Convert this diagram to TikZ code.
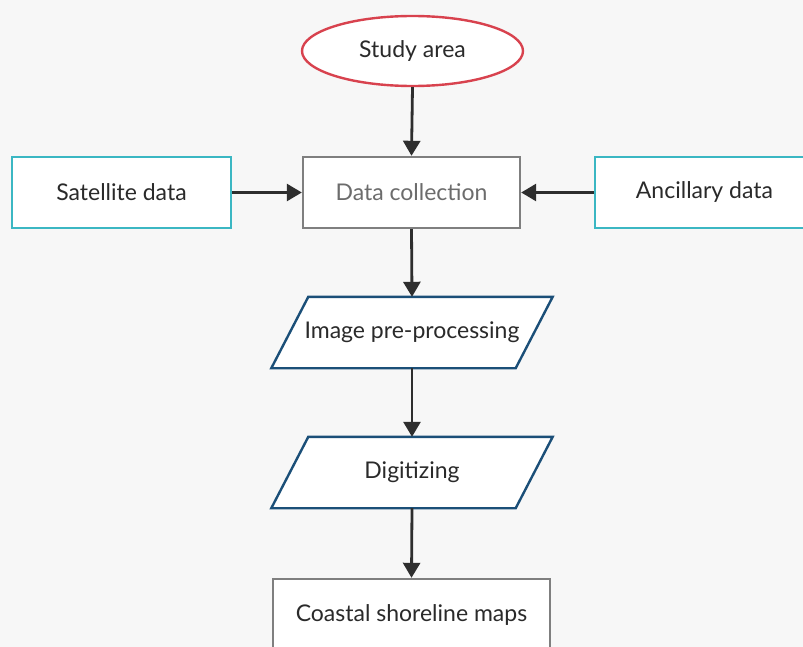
\documentclass[tikz,border=0pt]{standalone}
\usepackage{fontspec}
\setmainfont{Lato}
\usetikzlibrary{shapes.geometric,arrows.meta}
\definecolor{bg}{HTML}{F7F7F7}
\definecolor{ered}{HTML}{D8424E}
\definecolor{teal}{HTML}{3BB7C3}
\definecolor{gbox}{HTML}{7F7F7F}
\definecolor{pblue}{HTML}{1B4F78}
\definecolor{txt}{HTML}{2A2A2A}
\definecolor{ln}{HTML}{2E2E2E}
\tikzset{
  lbl/.style={font=\fontsize{23}{27}\selectfont, text=txt, inner sep=0pt},
  tealbox/.style={lbl, draw=teal, line width=2.4pt, fill=white, minimum width=219pt, minimum height=71pt},
  graybox/.style={lbl, draw=gbox, line width=2.4pt, fill=white, minimum height=71pt},
  para/.style={lbl, minimum width=244pt, minimum height=71pt},
  oval/.style={lbl, ellipse, draw=ered, line width=2.4pt, fill=white, minimum width=221pt, minimum height=70pt},
  conn/.style={draw=ln, line width=2.8pt, -{Triangle[length=15pt,width=17pt]}},
}
\begin{document}
\begin{tikzpicture}[x=1pt,y=-1pt]
\useasboundingbox (0,0) rectangle (803,647);
\clip (0,0) rectangle (803,647);
\fill[bg] (0,0) rectangle (803,647);
\node[oval] (study) at (412.5,51) {Study area};
\node[tealbox] (sat) at (121.5,192.5) {Satellite data};
\node[graybox, minimum width=217pt, text=gray!85!black] (dc) at (411.5,192.5) {Data collection};
\node[tealbox] (anc) at (704.5,192.5) {Ancillary data};
\node[para] (img) at (412,332.5) {};
\node[para] (dig) at (412,472.5) {};
\foreach \n in {img,dig}{
  \filldraw[draw=pblue, fill=white, line width=2.4pt, line join=miter]
    ([xshift=18.5pt]\n.north west) -- ([xshift=18.5pt]\n.north east)
    -- ([xshift=-18.5pt]\n.south east) -- ([xshift=-18.5pt]\n.south west) -- cycle;
}
\node[lbl] at (img) {Image pre-processing};
\node[lbl] at (dig) {Digitizing};
\node[graybox, minimum width=277pt] (coast) at (411.5,614.5) {Coastal shoreline maps};
\draw[conn] (study.south) -- (dc.north);
\draw[conn] (sat.east) -- (dc.west);
\draw[conn] (anc.west) -- (dc.east);
\draw[conn] (dc.south) -- (img.north);
\draw[conn] (img.south) -- (dig.north);
\draw[conn] (dig.south) -- (coast.north);
\end{tikzpicture}
\end{document}
